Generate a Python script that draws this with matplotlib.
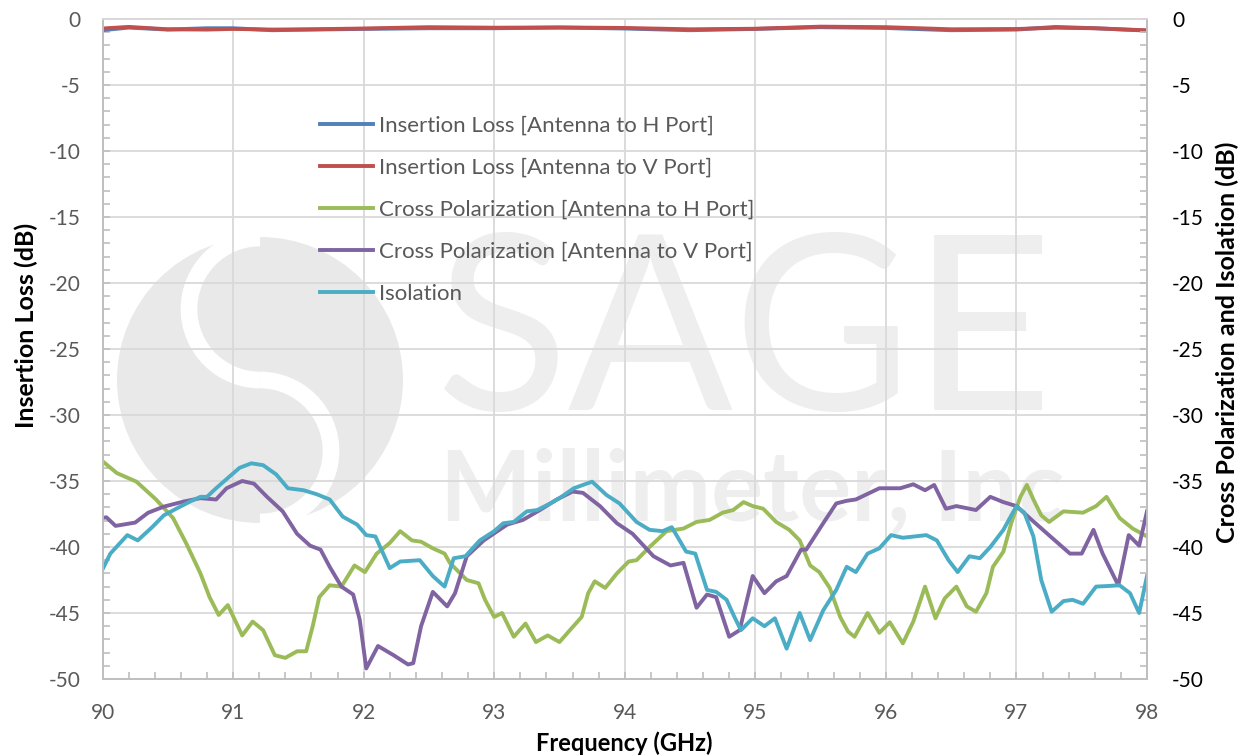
import matplotlib
matplotlib.use("Agg")
import matplotlib.pyplot as plt
from matplotlib.patches import Circle, Arc
from matplotlib.transforms import IdentityTransform
from matplotlib.ticker import MultipleLocator

plt.rcParams['font.family'] = ['Lato', 'DejaVu Sans']
plt.rcParams['axes.unicode_minus'] = False

# --- data ---
il_freq = [90.0, 90.2, 90.5, 90.8, 91.0, 91.3, 91.6, 92.0, 92.5, 93.0, 93.5,
           94.0, 94.5, 95.0, 95.5, 96.0, 96.5, 97.0, 97.3, 97.6, 98.0]
il_h = [-0.85, -0.65, -0.8, -0.7, -0.7, -0.85, -0.8, -0.75, -0.7, -0.7, -0.65,
        -0.72, -0.85, -0.75, -0.62, -0.68, -0.85, -0.8, -0.6, -0.7, -0.88]
il_v = [-0.72, -0.6, -0.78, -0.8, -0.75, -0.8, -0.78, -0.72, -0.62, -0.66, -0.64,
        -0.68, -0.78, -0.74, -0.58, -0.62, -0.78, -0.76, -0.66, -0.7, -0.86]

xp_h_freq = [90.0, 90.11, 90.26, 90.41, 90.54, 90.64, 90.75, 90.82, 90.89, 90.96,
             91.07, 91.15, 91.23, 91.32, 91.40, 91.49, 91.56, 91.61, 91.66, 91.74,
             91.83, 91.93, 92.01, 92.10, 92.20, 92.28, 92.37, 92.44, 92.53, 92.62,
             92.66, 92.79, 92.88, 92.93, 93.00, 93.06, 93.15, 93.24, 93.32, 93.41,
             93.50, 93.58, 93.67, 93.72, 93.77, 93.85, 93.94, 94.03, 94.09, 94.19,
             94.32, 94.45, 94.55, 94.65, 94.75, 94.83, 94.91, 94.98, 95.06, 95.16,
             95.26, 95.34, 95.42, 95.49, 95.57, 95.65, 95.71, 95.76, 95.86, 95.95,
             96.03, 96.13, 96.21, 96.30, 96.38, 96.45, 96.54, 96.62, 96.69, 96.77,
             96.82, 96.90, 96.96, 97.03, 97.08, 97.13, 97.19, 97.25, 97.36, 97.51,
             97.61, 97.69, 97.79, 97.89, 98.00]
xp_h = [-33.5, -34.4, -35.05, -36.4, -37.8, -39.7, -42.0, -43.8, -45.15, -44.4,
        -46.7, -45.65, -46.3, -48.2, -48.4, -47.9, -47.9, -46.0, -43.8, -42.9,
        -43.0, -41.4, -41.9, -40.5, -39.7, -38.8, -39.5, -39.6, -40.1, -40.5,
        -41.2, -42.5, -42.75, -44.0, -45.3, -45.0, -46.8, -45.8, -47.2, -46.7,
        -47.2, -46.3, -45.3, -43.5, -42.6, -43.1, -42.0, -41.1, -41.0, -40.0,
        -38.8, -38.6, -38.1, -37.95, -37.4, -37.2, -36.6, -36.9, -37.1, -38.1,
        -38.7, -39.5, -41.4, -41.9, -43.1, -45.3, -46.4, -46.8, -45.0, -46.5,
        -45.7, -47.3, -45.65, -43.0, -45.4, -43.9, -43.0, -44.5, -44.9, -43.5,
        -41.5, -40.35, -38.2, -36.2, -35.3, -36.4, -37.6, -38.1, -37.3, -37.4,
        -36.9, -36.2, -37.8, -38.6, -39.2]

xp_v_freq = [90.00, 90.03, 90.10, 90.25, 90.35, 90.47, 90.62, 90.75, 90.87, 90.95,
             91.07, 91.16, 91.26, 91.38, 91.49, 91.59, 91.67, 91.74, 91.83, 91.92,
             91.97, 92.02, 92.11, 92.23, 92.34, 92.38, 92.44, 92.53, 92.64, 92.70,
             92.79, 92.92, 93.10, 93.22, 93.35, 93.48, 93.60, 93.68, 93.81, 93.94,
             94.06, 94.22, 94.35, 94.45, 94.55, 94.63, 94.70, 94.80, 94.88, 94.98,
             95.07, 95.16, 95.24, 95.35, 95.39, 95.52, 95.62, 95.70, 95.77, 95.95,
             96.11, 96.21, 96.30, 96.37, 96.46, 96.54, 96.69, 96.80, 96.90, 97.00,
             97.10, 97.26, 97.41, 97.50, 97.59, 97.66, 97.78, 97.86, 97.94, 98.00]
xp_v = [-37.8, -37.75, -38.4, -38.15, -37.4, -36.94, -36.56, -36.3, -36.4, -35.55,
        -35.0, -35.2, -36.2, -37.3, -39.0, -39.9, -40.2, -41.5, -43.0, -43.6,
        -45.5, -49.2, -47.5, -48.2, -48.9, -48.8, -46.0, -43.4, -44.5, -43.5,
        -40.7, -39.5, -38.3, -37.95, -37.2, -36.4, -35.8, -35.9, -36.9, -38.2,
        -39.0, -40.7, -41.4, -41.2, -44.6, -43.6, -43.8, -46.8, -46.3, -42.2,
        -43.5, -42.6, -42.2, -40.2, -40.2, -38.2, -36.7, -36.5, -36.4, -35.55,
        -35.55, -35.25, -35.7, -35.3, -37.1, -36.9, -37.2, -36.2, -36.6, -36.9,
        -37.8, -39.2, -40.5, -40.5, -38.7, -40.5, -42.9, -39.1, -39.9, -37.3]

iso_freq = [90.00, 90.06, 90.19, 90.27, 90.38, 90.47, 90.57, 90.67, 90.75, 90.80,
            90.87, 90.98, 91.05, 91.14, 91.23, 91.33, 91.42, 91.54, 91.64, 91.74,
            91.84, 91.95, 92.02, 92.09, 92.15, 92.20, 92.28, 92.43, 92.53, 92.62,
            92.69, 92.78, 92.89, 93.00, 93.07, 93.15, 93.25, 93.33, 93.43, 93.50,
            93.61, 93.75, 93.86, 93.96, 94.09, 94.19, 94.29, 94.36, 94.42, 94.47,
            94.54, 94.63, 94.70, 94.78, 94.84, 94.89, 94.98, 95.07, 95.15, 95.24,
            95.34, 95.42, 95.52, 95.62, 95.70, 95.77, 95.86, 95.95, 96.04, 96.13,
            96.31, 96.39, 96.48, 96.55, 96.64, 96.72, 96.80, 96.90, 97.00, 97.06,
            97.13, 97.19, 97.27, 97.36, 97.43, 97.51, 97.61, 97.71, 97.79, 97.87,
            97.94, 98.00]
iso = [-41.7, -40.5, -39.1, -39.5, -38.5, -37.6, -37.07, -36.56, -36.2, -36.2,
       -35.55, -34.6, -34.0, -33.66, -33.8, -34.5, -35.55, -35.7, -36.0, -36.4,
       -37.7, -38.3, -39.1, -39.2, -40.5, -41.6, -41.1, -41.0, -42.2, -43.0,
       -40.85, -40.7, -39.5, -38.8, -38.2, -38.1, -37.3, -37.2, -36.7, -36.3,
       -35.55, -35.05, -36.06, -36.7, -38.1, -38.7, -38.8, -38.5, -39.5, -40.35,
       -40.5, -43.25, -43.4, -44.0, -45.3, -46.3, -45.4, -46.0, -45.4, -47.7,
       -45.0, -47.05, -44.8, -43.25, -41.5, -41.9, -40.5, -40.1, -39.1, -39.3,
       -39.1, -39.5, -41.0, -41.9, -40.7, -40.85, -40.0, -38.7, -36.9, -37.4,
       -39.2, -42.5, -44.9, -44.1, -44.0, -44.3, -43.0, -42.95, -42.9, -43.5,
       -45.0, -42.2]

labels = ['Insertion Loss [Antenna to H Port]',
          'Insertion Loss [Antenna to V Port]',
          'Cross Polarization [Antenna to H Port]',
          'Cross Polarization [Antenna to V Port]',
          'Isolation']
colors = ['#4F81BD', '#C0504D', '#9BBB59', '#8064A2', '#4BACC6']

W, H = 1250, 756
fig = plt.figure(figsize=(W / 100, H / 100), dpi=100)
ax = fig.add_axes([102.5 / W, 77 / H, 1044.5 / W, 660 / H])
ax2 = ax.twinx()

# watermark (display pixel coords, y measured from bottom)
wm = '#eeeeee'
px = IdentityTransform()
logo = Circle((260, H - 380), 143, transform=px, color='#e9e9e9', zorder=0.1, lw=0)
ax.add_artist(logo)
for cx, cy, t1, t2 in [(260, H - 380 + 71, 90, 270), (260, H - 380 - 71, 270, 450)]:
    ax.add_artist(Arc((cx, cy), 142, 142, theta1=t1, theta2=t2, transform=px,
                      color='white', lw=12, zorder=0.15))
ax.text(436, H - 410, 'SAGE', transform=px, fontsize=176, fontweight='normal',
        color=wm, ha='left', va='baseline', zorder=0.2)
ax.text(440, H - 521, 'Millimeter, Inc', transform=px, fontsize=70,
        fontweight='bold', color=wm, ha='left', va='baseline', zorder=0.2)

lw = 2.8
h1, = ax.plot(il_freq, il_h, color=colors[0], lw=lw, solid_joinstyle='round')
h2, = ax.plot(il_freq, il_v, color=colors[1], lw=lw, solid_joinstyle='round')
h3, = ax2.plot(xp_h_freq, xp_h, color=colors[2], lw=lw, solid_joinstyle='round')
h4, = ax2.plot(xp_v_freq, xp_v, color=colors[3], lw=lw, solid_joinstyle='round')
h5, = ax2.plot(iso_freq, iso, color=colors[4], lw=lw, solid_joinstyle='round')

for a in (ax, ax2):
    a.set_xlim(90, 98)
    a.set_ylim(-50, 0)
    a.yaxis.set_major_locator(MultipleLocator(5))
    a.yaxis.set_minor_locator(MultipleLocator(1))
    for s in a.spines.values():
        s.set_color('#bfbfbf')
        s.set_linewidth(1.3)
    a.spines['top'].set_color('#d9d9d9')

ax.xaxis.set_major_locator(MultipleLocator(1))
ax.xaxis.set_minor_locator(MultipleLocator(0.2))
ax.set_axisbelow(True)
ax.grid(True, which='major', color='#d9d9d9', lw=1.3)

ax.tick_params(axis='both', which='both', direction='in', color='#bfbfbf',
               length=5, width=1.2, labelsize=15, labelcolor='#595959')
ax.tick_params(axis='y', pad=16)
ax.tick_params(axis='x', pad=17)
ax2.tick_params(axis='y', which='both', direction='in', color='#bfbfbf',
                length=5, width=1.2, labelsize=15, labelcolor='black', pad=18)

ax.set_xlabel('Frequency (GHz)', fontsize=17, fontweight='bold')
ax.set_ylabel('Insertion Loss (dB)', fontsize=18, fontweight='bold')
ax2.set_ylabel('Cross Polarization and Isolation (dB)', fontsize=18,
               fontweight='bold', rotation=90)
ax.xaxis.set_label_coords(0.5, -0.08)
ax.yaxis.set_label_coords(-0.062, 0.535)
ax2.yaxis.set_label_coords(1.066, 0.51)

leg = ax2.legend([h1, h2, h3, h4, h5], labels, loc='upper left',
                 bbox_to_anchor=(320, H - 116), bbox_transform=px,
                 frameon=False, fontsize=16, handlelength=2.4,
                 handletextpad=0.25, labelspacing=0.99, borderpad=0,
                 borderaxespad=0)
for t in leg.get_texts():
    t.set_color('#595959')

fig.savefig('out.png', dpi=100)
